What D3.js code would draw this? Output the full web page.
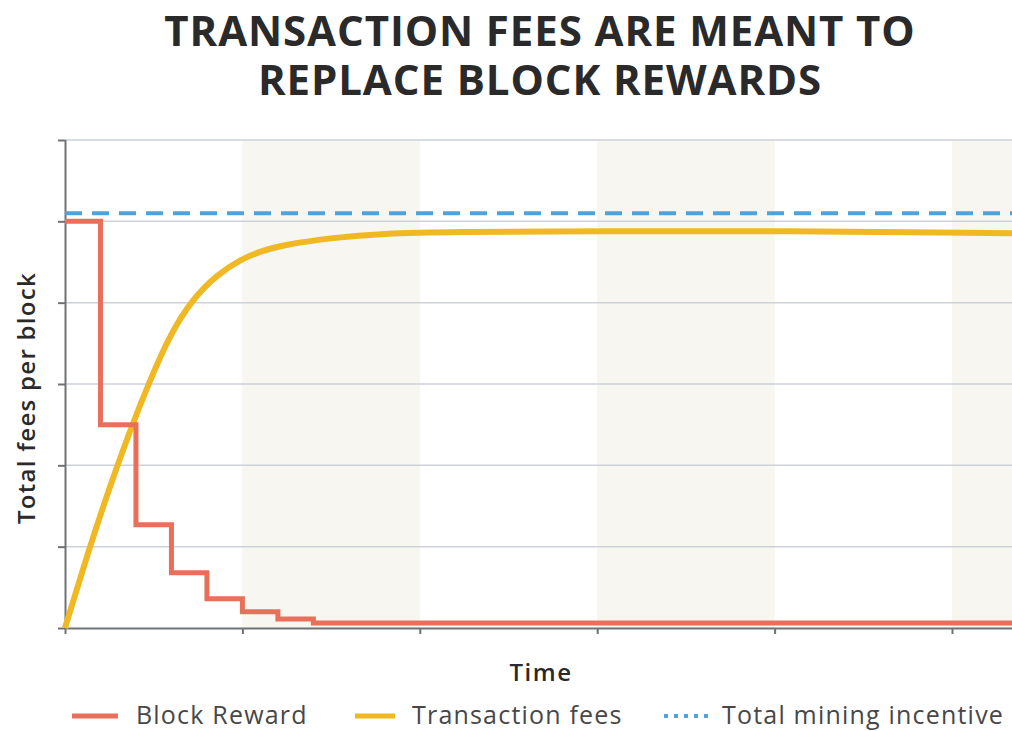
<!DOCTYPE html>
<html lang="en">
<head>
    <meta charset="utf-8">
    <title>Transaction fees vs block rewards</title>
    <script src="https://d3js.org/d3.v7.min.js"></script>
    <style>
        body { margin: 0; background: #fff; }
        text { font-family: "Open Sans", Lato, sans-serif; }
    </style>
</head>
<body>
    <script type="text/javascript">
        // data (time in halving-ish units, value in grid units)
        var titleLines = ["TRANSACTION FEES ARE MEANT TO", "REPLACE BLOCK REWARDS"];
        var xTicks = [0, 1, 2, 3, 4, 5];
        var yTicks = [0, 1, 2, 3, 4, 5, 6];
        var shadedBands = [[1, 2], [3, 4], [5, 6]];

        var rewardTimes = [0, 0.2, 0.4, 0.6, 0.8, 1.0, 1.2, 1.4, 5.5];
        var rewardValues = [5, 2.5, 1.27, 0.68, 0.36, 0.2, 0.11, 0.06, 0.06];

        var feeTimes = [0, 0.14, 0.25, 0.37, 0.48, 0.59, 0.72, 0.86, 0.99, 1.1, 1.23, 1.51, 1.79, 2.17, 3.0, 4.1, 5.0, 5.5];
        var feeValues = [0, 1.0, 1.72, 2.45, 3.05, 3.6, 4.05, 4.35, 4.53, 4.63, 4.71, 4.8, 4.85, 4.87, 4.88, 4.88, 4.86, 4.85];

        var incentiveValue = 5.1;

        var legendLabels = ["Block Reward", "Transaction fees", "Total mining incentive"];
        var colors = { reward: "#e8705a", fees: "#f0b823", incentive: "#4fa3da" };

        var w = 1012;
        var h = 731;

        var svg = d3.select("body")
            .append("svg").attr("width", w).attr("height", h);

        var x = d3.scaleLinear().domain([0, 5]).range([65, 952]);
        var y = d3.scaleLinear().domain([0, 6]).range([628, 140]);

        // title, one text with a tspan per line
        svg.append("text")
            .attr("text-anchor", "middle")
            .style("font-size", "42px").style("font-weight", 700)
            .style("fill", "#2a2a2a").style("letter-spacing", "0.9px")
            .selectAll("tspan")
            .data(titleLines).enter().append("tspan")
            .attr("x", 540).attr("y", (d, i) => 46 + i * 49)
            .text(d => d);

        var clip = svg.append("clipPath").attr("id", "plot")
            .append("rect").attr("x", 60).attr("y", 100).attr("width", w).attr("height", 540);

        // shaded bands
        svg.append("g").selectAll("rect")
            .data(shadedBands).enter().append("rect")
            .attr("x", d => x(d[0])).attr("width", d => x(d[1]) - x(d[0]))
            .attr("y", y(6)).attr("height", y(0) - y(6))
            .style("fill", "#f7f6f0");

        // gridlines
        svg.append("g").selectAll("line")
            .data(yTicks.slice(1)).enter().append("line")
            .attr("x1", x(0)).attr("x2", w)
            .attr("y1", d => y(d)).attr("y2", d => y(d))
            .style("stroke", "#cdd1d8").style("stroke-width", 1.5);

        // axes
        var yAxis = d3.axisLeft(y).tickValues(yTicks).tickSize(7).tickFormat("");
        var gy = svg.append("g").attr("transform", "translate(" + x(0) + ",0)").call(yAxis);
        var xAxis = d3.axisBottom(x).tickValues(xTicks).tickSize(6).tickSizeOuter(0).tickFormat("");
        var gx = svg.append("g").attr("transform", "translate(0," + y(0) + ")").call(xAxis);
        gx.select(".domain").attr("d", "M" + x(0) + ",0.5H" + w);
        gy.select(".domain").attr("d", "M0.5," + y(6) + "V" + y(0));
        svg.selectAll(".domain, .tick line").style("stroke", "#6f7275").style("stroke-width", 2);

        var g = svg.append("g").attr("clip-path", "url(#plot)");

        // total mining incentive
        g.append("line")
            .attr("x1", x(0)).attr("x2", w)
            .attr("y1", y(incentiveValue)).attr("y2", y(incentiveValue))
            .style("stroke", colors.incentive).style("stroke-width", 4)
            .style("stroke-dasharray", "17,10");

        // transaction fees
        var feeLine = d3.line()
            .x((d, i) => x(feeTimes[i])).y(d => y(d))
            .curve(d3.curveBasis);
        g.append("path").datum(feeValues)
            .attr("d", feeLine)
            .style("fill", "none").style("stroke", colors.fees).style("stroke-width", 6);

        // block reward
        var rewardLine = d3.line()
            .x((d, i) => x(rewardTimes[i])).y(d => y(d))
            .curve(d3.curveStepAfter);
        g.append("path").datum(rewardValues)
            .attr("d", rewardLine)
            .style("fill", "none").style("stroke", colors.reward).style("stroke-width", 5);

        // axis labels
        svg.append("text")
            .attr("x", 541).attr("y", 681).attr("text-anchor", "middle")
            .style("font-size", "24px").style("font-weight", 600).style("fill", "#2a2a2a")
            .style("letter-spacing", "1.5px")
            .text("Time");
        svg.append("text")
            .attr("transform", "translate(35,398) rotate(-90)").attr("text-anchor", "middle")
            .style("font-size", "24px").style("font-weight", 600).style("fill", "#2a2a2a")
            .style("letter-spacing", "1.3px")
            .text("Total fees per block");

        // legend
        var legendX = [{ x1: 72, x2: 118, t: 136 }, { x1: 355, x2: 395, t: 412 }, { x1: 664, x2: 708, t: 722 }];
        var keys = ["reward", "fees", "incentive"];
        var lg = svg.append("g").selectAll("g")
            .data(legendLabels).enter().append("g");
        lg.append("line")
            .attr("x1", (d, i) => legendX[i].x1).attr("x2", (d, i) => legendX[i].x2)
            .attr("y1", 716).attr("y2", 716)
            .style("stroke", (d, i) => colors[keys[i]])
            .style("stroke-width", (d, i) => i == 2 ? 4 : 5)
            .style("stroke-dasharray", (d, i) => i == 2 ? "4,6" : null);
        lg.append("text")
            .attr("x", (d, i) => legendX[i].t).attr("y", 724)
            .style("font-size", "25px").style("fill", "#474747")
            .style("letter-spacing", "1.2px")
            .text(d => d);
    </script>
</body>
</html>
